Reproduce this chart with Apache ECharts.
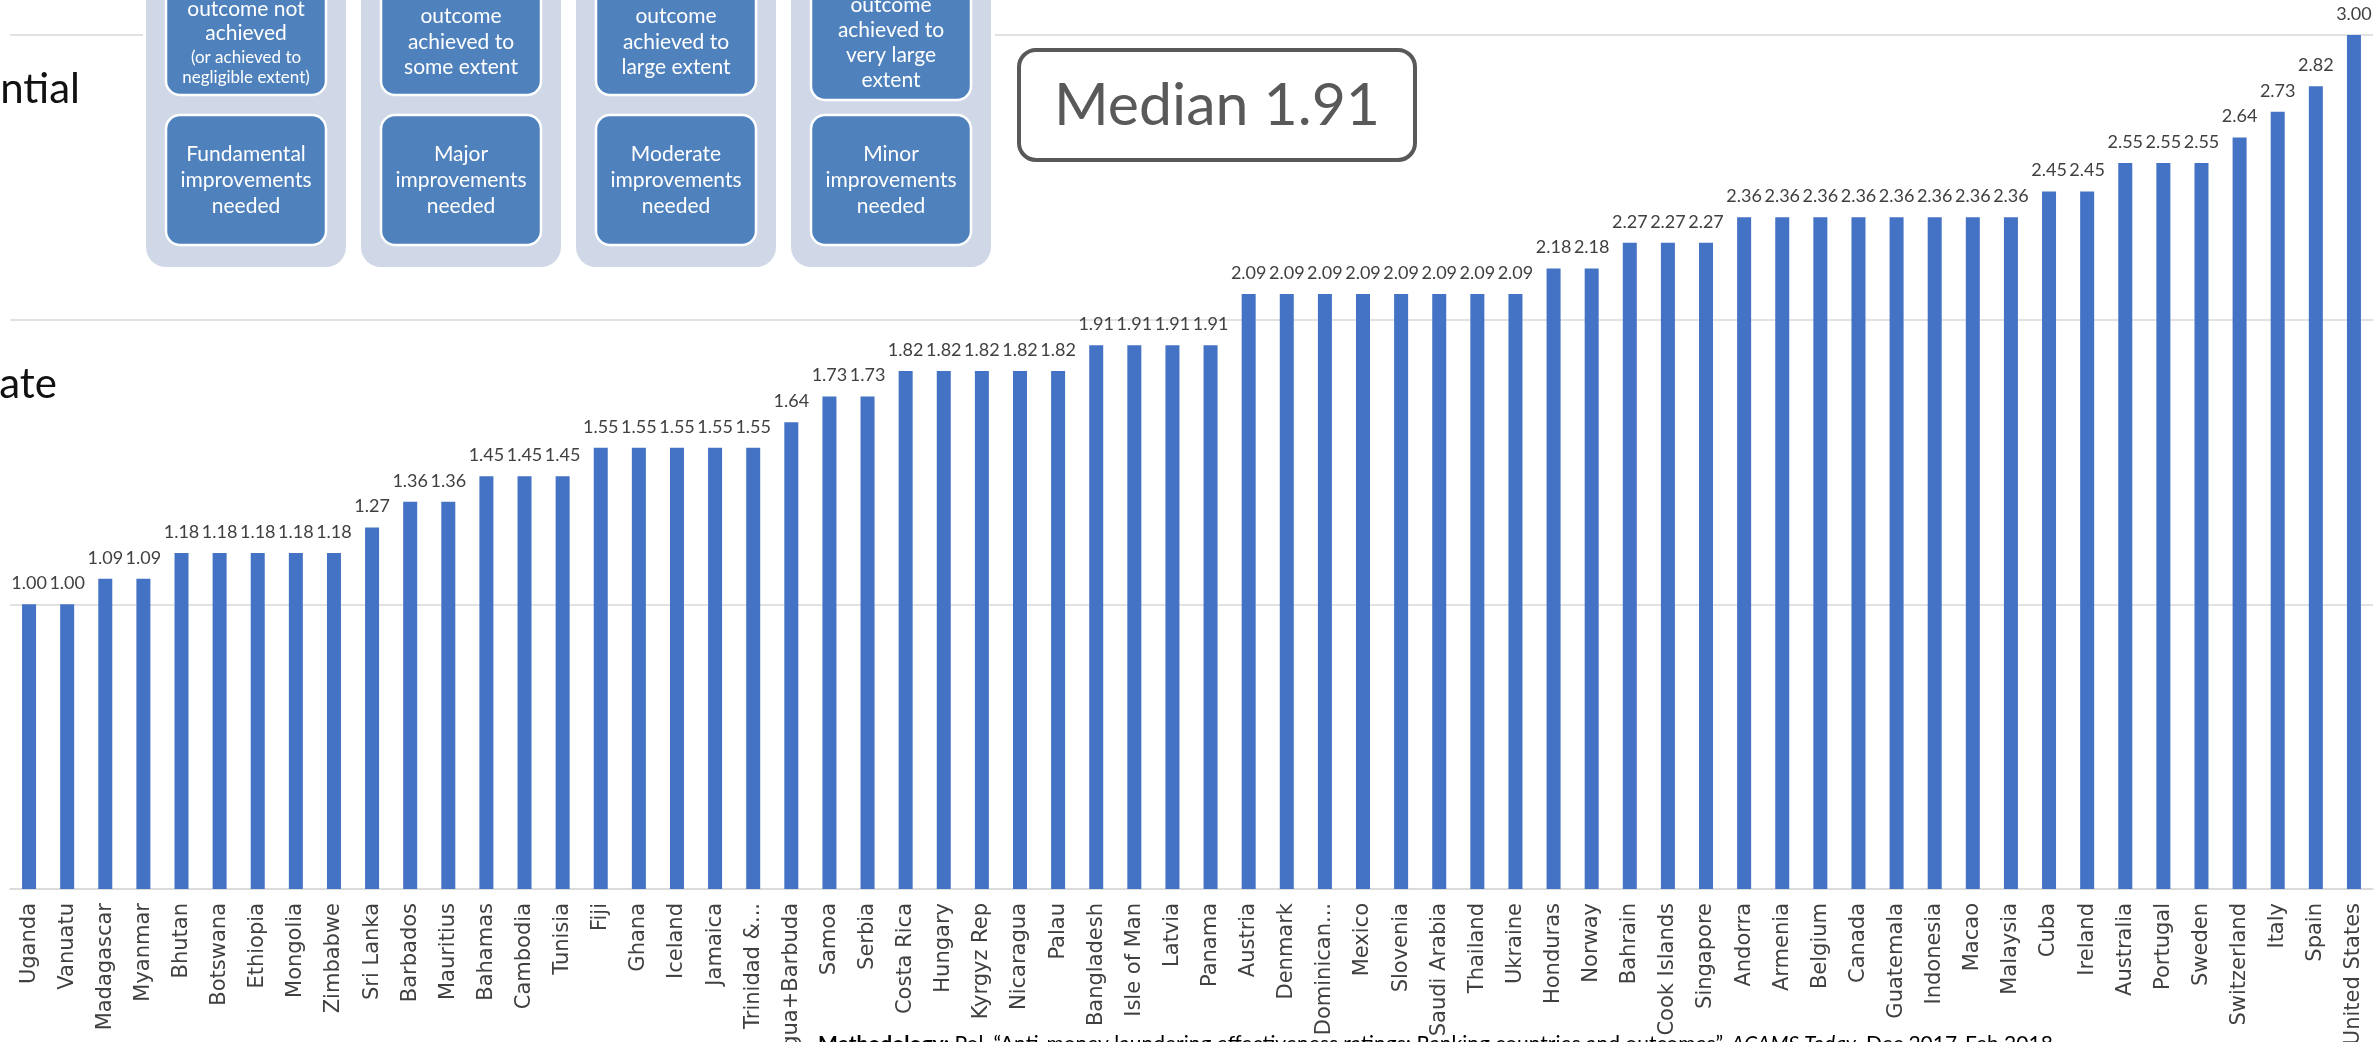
<!DOCTYPE html>
<html>
<head>
<meta charset="utf-8">
<title>Effectiveness ratings</title>
<script src="https://cdn.jsdelivr.net/npm/echarts@6/dist/echarts.min.js"></script>
<style>
  html, body { margin: 0; padding: 0; background: #fff; }
  #chart { width: 2377px; height: 1042px; }
</style>
</head>
<body>
<div id="chart"></div>
<script>
var countries = ['Uganda','Vanuatu','Madagascar','Myanmar','Bhutan','Botswana','Ethiopia','Mongolia','Zimbabwe','Sri Lanka',
  'Barbados','Mauritius','Bahamas','Cambodia','Tunisia','Fiji','Ghana','Iceland','Jamaica','Trinidad &...',
  'Antigua+Barbuda','Samoa','Serbia','Costa Rica','Hungary','Kyrgyz Rep','Nicaragua','Palau','Bangladesh','Isle of Man',
  'Latvia','Panama','Austria','Denmark','Dominican...','Mexico','Slovenia','Saudi Arabia','Thailand','Ukraine',
  'Honduras','Norway','Bahrain','Cook Islands','Singapore','Andorra','Armenia','Belgium','Canada','Guatemala',
  'Indonesia','Macao','Malaysia','Cuba','Ireland','Australia','Portugal','Sweden','Switzerland','Italy',
  'Spain','United States'];
var scores = [1.00,1.00,1.09,1.09,1.18,1.18,1.18,1.18,1.18,1.27,
  1.36,1.36,1.45,1.45,1.45,1.55,1.55,1.55,1.55,1.55,
  1.64,1.73,1.73,1.82,1.82,1.82,1.82,1.82,1.91,1.91,
  1.91,1.91,2.09,2.09,2.09,2.09,2.09,2.09,2.09,2.09,
  2.18,2.18,2.27,2.27,2.27,2.36,2.36,2.36,2.36,2.36,
  2.36,2.36,2.36,2.45,2.45,2.55,2.55,2.55,2.64,2.73,
  2.82,3.00];
var medianText = 'Median 1.91';
var levelNames = ['Substantial', 'Moderate'];

// legend boxes (top left): upper text lines [text, size, y], lower text
var boxTop = [
  [['outcome not',21,9],['achieved',21,33],['(or achieved to',17,58],['negligible extent)',17,78]],
  [['outcome',21,16],['achieved to',21,42],['some extent',21,67]],
  [['outcome',21,16],['achieved to',21,42],['large extent',21,67]],
  [['outcome',21,5],['achieved to',21,30],['very large',21,55],['extent',21,80]]
];
var boxBottom = ['Fundamental\nimprovements\nneeded','Major\nimprovements\nneeded','Moderate\nimprovements\nneeded','Minor\nimprovements\nneeded'];
var boxCenters = [246, 461, 676, 891];
var boxUpperBottom = [95, 95, 95, 100];

var chart = echarts.init(document.getElementById('chart'));

var gfx = [];
gfx.push({type:'rect', shape:{x:143, y:0, width:852, height:272}, style:{fill:'#fff'}, z:10});
boxCenters.forEach(function (cx, i) {
  gfx.push({type:'rect', shape:{x:cx-100, y:-40, width:200, height:307, r:20}, style:{fill:'#d0d8e7'}, z:11});
  gfx.push({type:'rect', shape:{x:cx-80, y:-60, width:160, height:boxUpperBottom[i]+60, r:14},
    style:{fill:'#4f81bd', stroke:'#fff', lineWidth:2.5}, z:12});
  gfx.push({type:'rect', shape:{x:cx-80, y:115, width:160, height:130, r:14},
    style:{fill:'#4f81bd', stroke:'#fff', lineWidth:2.5}, z:12});
  boxTop[i].forEach(function (ln) {
    gfx.push({type:'text', x:cx, y:ln[2], z:13,
      style:{text:ln[0], fill:'#fff', fontFamily:'Lato', fontSize:ln[1], align:'center', verticalAlign:'middle'}});
  });
  gfx.push({type:'text', x:cx, y:180, z:13,
    style:{text:boxBottom[i], fill:'#fff', fontFamily:'Lato', fontSize:21, lineHeight:26, align:'center', verticalAlign:'middle'}});
});
// median box
gfx.push({type:'rect', shape:{x:1019, y:50, width:396, height:110, r:17},
  style:{fill:'#fff', stroke:'#595959', lineWidth:4}, z:10});
gfx.push({type:'text', x:1217, y:106, z:11,
  style:{text:medianText, fill:'#595959', fontFamily:'Lato', fontSize:59, align:'center', verticalAlign:'middle'}});
// cut-off level names at left edge
gfx.push({type:'text', x:80, y:89, z:10,
  style:{text:levelNames[0], fill:'#111', fontFamily:'Lato', fontSize:42, align:'right', verticalAlign:'middle'}});
gfx.push({type:'text', x:57, y:384, z:10,
  style:{text:levelNames[1], fill:'#111', fontFamily:'Lato', fontSize:42, align:'right', verticalAlign:'middle'}});
// source note, cut by the bottom edge
gfx.push({type:'text', x:818, y:1034, z:10,
  style:{text:'{b|Methodology:} Pol, “Anti-money laundering effectiveness ratings: Ranking countries and outcomes”, {i|ACAMS Today}, Dec 2017-Feb 2018',
    fill:'#000', fontFamily:'Lato', fontSize:21, align:'left', verticalAlign:'top',
    rich:{b:{fontWeight:'bold', fontFamily:'Lato', fontSize:21, fill:'#000'}, i:{fontStyle:'italic', fontFamily:'Lato', fontSize:21, fill:'#000'}}}});

var option = {
  animation: false,
  backgroundColor: '#fff',
  grid: { left: 10, right: 4, top: 35, bottom: 153, containLabel: false, outerBoundsMode: 'none' },
  xAxis: {
    type: 'category',
    data: countries,
    axisTick: { show: false },
    axisLine: { lineStyle: { color: '#d9d9d9', width: 1.5 } },
    axisLabel: { rotate: 90, interval: 0, margin: 14, color: '#404040', fontFamily: 'DejaVu Sans', fontSize: 21 }
  },
  yAxis: {
    type: 'value',
    min: 0, max: 3, interval: 1,
    axisLabel: { show: false },
    axisLine: { show: false },
    axisTick: { show: false },
    splitLine: { lineStyle: { color: '#d9d9d9', width: 1.5 } }
  },
  series: [{
    type: 'bar',
    data: scores,
    barWidth: 14,
    itemStyle: { color: '#4472c4' },
    label: {
      show: true, position: 'top', distance: 12,
      color: '#404040', fontFamily: 'Lato', fontSize: 18,
      formatter: function (p) { return p.value.toFixed(2); }
    }
  }],
  graphic: gfx
};
chart.setOption(option);
window.onresize = chart.resize;
</script>
</body>
</html>
